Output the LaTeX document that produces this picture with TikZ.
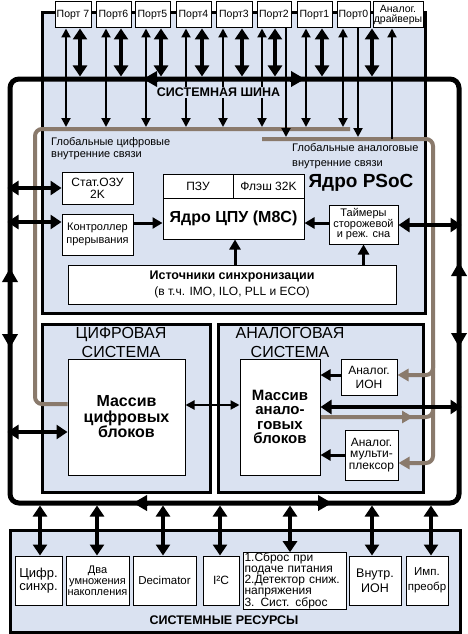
\documentclass[tikz,border=0pt]{standalone}
\usepackage{fontspec}
\setmainfont{Liberation Sans}
\usetikzlibrary{arrows.meta}
\definecolor{panelblue}{RGB}{218,226,241}
\definecolor{gbrown}{RGB}{138,122,108}
\newcommand{\fs}[2]{\fontsize{#1}{#2}\selectfont}
\newcommand{\rbox}[7]{\node[#1, minimum width={(#5-#3)*1pt}, minimum height={(#6-#4)*1pt}] (#2) at ({(#3+#5)/2},{(#4+#6)/2}) {#7};}
\pgfdeclarelayer{bg}
\pgfdeclarelayer{mid}
\pgfsetlayers{bg,mid,main}
\begin{document}
\begin{tikzpicture}[x=1pt,y=-1pt,
  panel/.style={draw=black, line width=3pt, fill=panelblue, inner sep=0pt},
  wbox/.style={draw=black, line width=1pt, fill=white, inner sep=0pt, align=center},
  portbox/.style={wbox, font=\fs{10.5}{10}},
  busarrow/.style={line width=5pt, -{Triangle[length=14pt,width=15pt]}},
  brownline/.style={draw=gbrown, line width=4pt, rounded corners=7pt},
  browntip/.style={-{Triangle[length=11pt,width=12pt]}},
  thicktwo/.style={line width=4pt, {Triangle[length=11pt,width=14pt]}-{Triangle[length=11pt,width=14pt]}},
  thintwo/.style={line width=2pt, {Triangle[length=9pt,width=9pt]}-{Triangle[length=9pt,width=9pt]}},
  thinone/.style={line width=2pt, -{Triangle[length=9pt,width=9pt]}},
  medone/.style={line width=3pt, -{Triangle[length=10pt,width=11pt]}},
]
\useasboundingbox (0,0) rectangle (467,634);

% ---------- panels
\begin{pgfonlayer}{bg}
\rbox{panel}{core}{42}{13}{425}{313}{}
\rbox{panel}{digsys}{42}{324}{210}{492}{}
\rbox{panel}{ansys}{218}{324}{423}{492}{}
\rbox{panel}{res}{10}{530}{460}{632}{}
\end{pgfonlayer}

% ---------- ports
\foreach \n/\a/\b/\t in {7/55/91/{Порт 7},6/96/131/{Порт6},5/135/170/{Порт5},4/176/211/{Порт4},3/216/252/{Порт3},2/257/291/{Порт2},1/297/332/{Порт1},0/337/370/{Порт0}}{\rbox{portbox}{p\n}{\a}{2}{\b}{28}{\t}}
\rbox{wbox, font=\fs{10.5}{10}}{adrv}{373}{2}{423}{28}{Аналог.\\драйверы}

% ---------- core
\node[anchor=west, align=left, font=\fs{11}{12}, inner sep=0pt] (dgtxt) at (51,148.5) {Глобальные цифровые\\внутренние связи};
\node[anchor=west, align=left, font=\fs{11}{15.5}, inner sep=0pt] (agtxt) at (292,156) {Глобальные аналоговые\\внутренние связи};
\node[font=\fs{19}{19}\bfseries, inner sep=0pt] (psoc) at (361,183) {Ядро PSoC};
\node[fill=panelblue, inner sep=1.5pt, font=\fs{12.5}{14}\bfseries] (bustitle) at (218.5,92.5) {СИСТЕМНАЯ ШИНА};

\rbox{wbox, font=\fs{12}{12}}{ram}{62}{172}{133}{204}{Стат.ОЗУ\\2K}
\rbox{wbox, font=\fs{11}{13}}{intc}{62}{214}{133}{255}{Контроллер\\прерывания}
\rbox{wbox, font=\fs{12}{12}}{rom}{163}{174}{233}{198}{ПЗУ}
\rbox{wbox, font=\fs{12}{12}}{flash}{233}{174}{304}{198}{Флэш 32K}
\rbox{wbox, font=\fs{16}{16}\bfseries}{cpu}{163}{198}{304}{239}{Ядро ЦПУ (M8C)}
\rbox{wbox, font=\fs{11}{10.5}}{tmr}{329}{205}{398}{244}{Таймеры\\сторожевой\\и реж. сна}
\rbox{wbox, font=\fs{12}{16}}{clk}{68}{265}{396}{304}{{\fs{12.5}{16}\bfseries Источники синхронизации}\\(в т.ч. IMO, ILO, PLL и ECO)}

% ---------- digital / analog systems
\node[font=\fs{16}{19}, align=center, inner sep=0pt] (dstitle) at (121,342.5) {ЦИФРОВАЯ\\СИСТЕМА};
\rbox{wbox, font=\fs{16}{15.5}\bfseries}{darr}{68}{359}{185}{475}{Массив\\цифровых\\блоков}
\node[font=\fs{16}{19}, align=center, inner sep=0pt] (astitle) at (290,342.5) {АНАЛОГОВАЯ\\СИСТЕМА};
\rbox{wbox, font=\fs{15}{14.5}\bfseries}{anarr}{240}{359}{320}{475}{Массив\\анало-\\говых\\блоков}
\rbox{wbox, font=\fs{12}{14}}{ion}{341}{359}{397}{395}{Аналог.\\ИОН}
\rbox{wbox, font=\fs{12}{11.5}}{mux}{345}{430}{398}{480}{Аналог.\\мульти-\\плексор}

% ---------- system resources
\rbox{wbox, font=\fs{13}{12.5}}{r1}{15}{556}{62}{605}{Цифр.\\синхр.}
\rbox{wbox, font=\fs{11}{11}}{r2}{66}{556}{129}{605}{Два\\умножения\\накопления}
\rbox{wbox, font=\fs{11.5}{12}}{r3}{133}{556}{196}{605}{Decimator}
\rbox{wbox, font=\fs{12}{12}}{r4}{203}{556}{239}{605}{I²C}
\rbox{wbox, align=left, text width=100pt, font=\fs{12}{11}}{r5}{243}{553}{346}{609}{1.Сброс при\\подаче питания\\2.Детектор сниж.\\напряжения\\3. Сист. сброс}
\rbox{wbox, font=\fs{12.5}{15}}{r6}{349}{556}{401}{605}{Внутр.\\ИОН}
\rbox{wbox, font=\fs{11.5}{15}}{r7}{406}{556}{448}{605}{Имп.\\преобр}
\node[font=\fs{12.5}{14}\bfseries, inner sep=0pt] (restitle) at (224,620) {СИСТЕМНЫЕ РЕСУРСЫ};

% ---------- bus, interconnects, arrows
\begin{pgfonlayer}{mid}
\node[draw, line width=5pt, rounded corners=9pt, minimum width=449pt, minimum height=424pt, inner sep=0pt] (bus) at (234.5,291) {};
\draw[busarrow] (158,79) -- (143,79);
\draw[busarrow] (290,79) -- (305,79);
\draw[busarrow] (10,282) -- (10,268);
\draw[busarrow] (10,334) -- (10,348);
\draw[busarrow] (459,276) -- (459,262);
\draw[busarrow] (459,333) -- (459,347);
\draw[busarrow] (148,503) -- (133,503);
\draw[busarrow] (317,503) -- (332,503);

% global interconnects
\draw[brownline] (350,129) -- (35,129) -- (35,404) -- (darr.west |- 0,404);
\draw[brownline, browntip] (262,139) -- (433,139) -- (433,463) -- (mux.east |- 0,463);
\draw[brownline, browntip] (433,360) -- (433,375) -- (ion.east |- 0,375);
\draw[brownline] (anarr.east |- 0,417) -- (433,417) -- (433,405);
\draw[draw=gbrown, line width=4pt, browntip] (anarr.east |- 0,417) -- (413,417);

% ports
\foreach \n/\x in {7/66,6/106,5/146,4/186,3/223,2/262,1/306,0/343}{\draw[thintwo] (p\n.south -| \x,0) -- (\x,127);}
\foreach \n/\x in {7/80,6/121,5/161,4/202,3/242,2/275,1/322,0/372}{\draw[thicktwo] (p\n.south -| \x,0) -- (bus.north -| \x,0);}
\draw[thinone] (p2.south -| 286,0) -- (286,137);
\draw[thinone] (p0.south -| 358,0) -- (358,137);
\draw[thinone] (392,139) -- (adrv.south -| 392,0);

% core
\draw[thicktwo] (bus.west |- ram.west) -- (ram.west);
\draw[thicktwo] (bus.west |- 0,222) -- (intc.west |- 0,222);
\draw[medone] (intc.east |- 0,223) -- (cpu.west |- 0,223);
\draw[medone] (tmr.west |- 0,223) -- (cpu.east |- 0,223);
\draw[thicktwo] (tmr.east |- 0,225) -- (bus.east |- 0,225);
\draw[medone] (clk.north -| 235,0) -- (cpu.south -| 235,0);
\draw[medone] (clk.north -| tmr.south) -- (tmr.south);

% digital / analog
\draw[thicktwo] (bus.west |- 0,432) -- (darr.west |- 0,432);
\draw[thintwo] (darr.east |- 0,405) -- (anarr.west |- 0,405);
\draw[medone] (ion.west |- 0,375) -- (anarr.east |- 0,375);
\draw[medone] (mux.west |- 0,455) -- (anarr.east |- 0,455);
\draw[thicktwo] (bus.east |- 0,407) -- (anarr.east |- 0,407);

% resources
\foreach \n/\x in {1/40,2/97,3/163,4/220,5/290,6/372,7/431}{\draw[thicktwo] (bus.south -| \x,0) -- (r\n.north -| \x,0);}
\end{pgfonlayer}
\end{tikzpicture}
\end{document}
